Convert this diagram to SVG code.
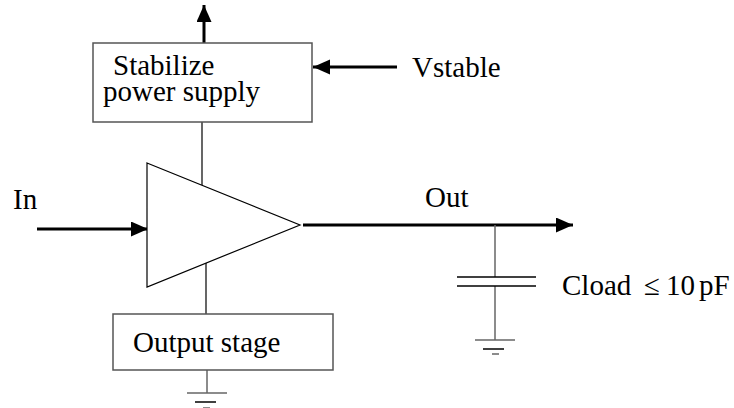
<svg xmlns="http://www.w3.org/2000/svg" width="734" height="408" viewBox="0 0 734 408">
<style>
text{font-family:"Liberation Serif","Times New Roman",serif;font-size:29px;fill:#000}
.box{fill:#fff;stroke:#555;stroke-width:1.5}
.thin{stroke:#000;stroke-width:1.2;fill:none}
.grey{stroke:#666;stroke-width:1.5;fill:none}
.thick{stroke:#000;stroke-width:3;fill:none;marker-end:url(#ah)}
</style>
<defs>
<marker id="ah" markerUnits="userSpaceOnUse" markerWidth="18" markerHeight="16" refX="17" refY="7.5" orient="auto">
<path d="M0,0 L17,7.5 L0,15 z" fill="#000"/>
</marker>
</defs>
<g id="connectors">
<line class="thick" x1="204" y1="43" x2="204" y2="5"/>
<line class="thick" x1="397" y1="67" x2="313" y2="67"/>
<line class="thick" x1="37" y1="229" x2="148" y2="229"/>
<line class="thick" x1="303" y1="225" x2="573" y2="225"/>
<line class="thin" x1="202" y1="122" x2="202" y2="185"/>
<line class="thin" x1="206" y1="263" x2="206" y2="314"/>
<line class="grey" x1="207" y1="370" x2="207" y2="393"/>
<line class="grey" x1="495" y1="225" x2="495" y2="277"/>
<line class="grey" x1="495" y1="286" x2="495" y2="340"/>
</g>
<g id="stabilize">
<rect class="box" x="93" y="43" width="219" height="79"/>
<text x="113" y="75">Stabilize</text>
<text x="103" y="101">power supply</text>
</g>
<g id="vstable"><text x="412" y="77">Vstable</text></g>
<g id="amplifier">
<polygon points="147,163 300,225 147,287" fill="#fff" stroke="#000" stroke-width="1.2"/>
</g>
<g id="in"><text x="13" y="209">In</text></g>
<g id="out"><text x="425" y="207">Out</text></g>
<g id="output-stage">
<rect class="box" x="113" y="314" width="220" height="56"/>
<text x="133" y="352">Output stage</text>
</g>
<g id="ground1">
<line class="grey" x1="187" y1="393" x2="227" y2="393"/>
<line stroke="#000" stroke-width="1.5" x1="195" y1="402" x2="216" y2="402"/>
<line class="grey" x1="203" y1="408" x2="210" y2="408"/>
</g>
<g id="capacitor">
<line stroke="#000" stroke-width="1.5" x1="457" y1="277" x2="536" y2="277"/>
<line stroke="#000" stroke-width="1.5" x1="457" y1="286" x2="536" y2="286"/>
<text x="562" y="295">Cload</text>
<text x="644" y="295">≤</text>
<text x="666" y="295">10</text>
<text x="699" y="295">pF</text>
</g>
<g id="ground2">
<line class="grey" x1="475" y1="340" x2="515" y2="340"/>
<line stroke="#000" stroke-width="1.5" x1="483" y1="349" x2="504" y2="349"/>
<line class="grey" x1="492" y1="354" x2="499" y2="354"/>
</g>
</svg>
